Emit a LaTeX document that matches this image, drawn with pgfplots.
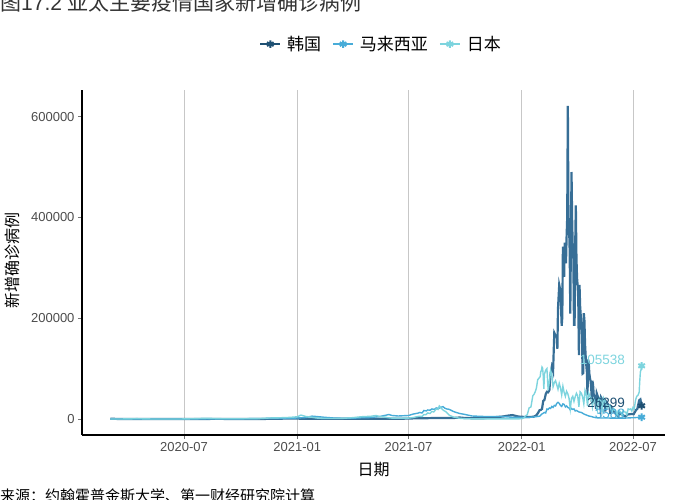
\documentclass[border=0pt]{standalone}
\usepackage{pgfplots}
\pgfplotsset{compat=1.18}
\usepackage{fontspec}
\setmainfont{Liberation Sans}
\newfontfamily\cjk{Noto Sans CJK SC}

\definecolor{krline}{RGB}{55,110,150}
\definecolor{krdark}{RGB}{30,80,115}
\definecolor{myline}{RGB}{72,172,216}
\definecolor{jpline}{RGB}{125,212,222}

% x = days since 2020-01-01 (2020-07-01 = 182, 2021-01-01 = 366, 2022-01-01 = 731)
\pgfplotstableread{
day cases
62 600
76 100
91 100
121 10
152 50
182 60
213 30
228 300
244 250
274 100
305 120
320 300
335 500
350 1000
366 800
380 500
397 400
425 400
456 500
486 600
517 500
547 800
555 1300
565 1600
578 1700
590 2000
600 1900
609 1900
620 2000
630 3000
639 2000
655 1500
670 1700
680 3100
690 3900
700 4900
710 7000
716 7800
725 5000
731 4400
740 4000
750 4400
755 7500
758 13000
760 17500
762 18000
764 20000
766 36000
768 38000
770 49000
772 54000
774 53000
776 57000
778 90000
780 104000
782 95000
784 171000
786 166000
788 163000
789 139000
790 219000
792 266000
794 254000
796 185000
797 202000
798 342000
800 282000
801 350000
803 309000
804 362000
805 400000
806 621000
807 407000
808 381000
809 334000
810 209000
811 353000
812 490000
813 395000
814 339000
815 318000
816 187000
817 187000
818 347000
819 424000
820 320000
821 280000
822 264000
823 234000
824 127000
825 266000
826 224000
827 205000
828 186000
829 164000
830 90000
831 91000
832 210000
833 195000
834 148000
835 125000
836 107000
837 93000
838 47000
839 118000
840 111000
841 90000
842 81000
843 75000
844 63000
845 34000
846 76000
847 68000
848 50000
850 43000
852 20000
853 51000
856 40000
859 20000
860 43000
866 30000
867 15000
868 35000
874 25000
875 10000
876 24000
882 13000
888 5000
889 12000
896 7000
900 5000
903 9000
910 10000
913 9500
917 18000
919 20000
922 37000
924 39000
926 26299
}\korea

\pgfplotstableread{
day cases
62 5
76 100
91 150
105 150
121 50
152 20
182 5
213 10
244 20
274 300
290 700
305 1000
320 1200
335 1100
350 1500
366 2000
380 3000
390 5700
397 5000
410 3500
425 2000
440 1500
456 1500
470 2500
486 3000
500 5000
510 7500
515 9000
520 7000
530 6000
547 7000
555 10000
562 11500
565 13000
569 12000
572 17000
576 16000
578 18000
582 17500
585 20000
589 19000
592 22000
596 21000
600 23500
603 24599
606 21500
609 20000
612 19500
615 18000
619 15500
622 14000
626 12500
630 11000
639 9000
650 6000
660 5500
670 5000
680 5000
700 5000
715 3500
731 3500
740 3000
750 4000
760 5500
764 10000
768 13000
770 12000
772 20000
774 19000
776 22000
778 21000
780 25000
782 23000
784 27000
786 26000
788 31000
790 33000
792 31000
794 27000
796 25000
798 30000
800 29000
802 24000
804 26000
806 23000
808 22000
810 18000
812 21000
814 19000
816 20000
818 16000
820 17000
824 14000
828 13000
832 10000
836 8000
840 6000
844 5000
848 3500
852 2500
860 2000
870 2000
880 1800
890 1700
900 1900
910 2500
918 3000
926 3588
}\malaysia

\pgfplotstableread{
day cases
62 20
76 50
91 250
100 500
105 700
115 400
121 200
135 50
152 40
170 100
182 150
200 700
213 1300
220 1500
230 1000
244 600
260 500
274 500
290 700
305 900
320 2000
335 2400
350 3000
360 3800
366 4500
372 7800
380 5000
390 3500
397 2000
410 1000
425 1000
440 1300
456 2700
470 4500
486 5500
494 7000
500 5000
510 3500
517 2000
530 1500
547 1800
555 3000
560 4500
565 5500
569 5000
572 9000
575 8500
578 12000
582 11000
585 15000
588 14000
592 20000
595 19000
597 25800
600 22000
602 19000
604 17000
607 15000
609 13000
612 9000
614 7000
620 4000
630 1500
639 600
655 300
670 200
700 150
720 300
731 500
735 2600
737 6000
740 8500
743 22000
746 24000
749 46000
751 49000
753 54000
755 62000
757 78000
759 81000
761 84000
762 94000
763 96000
764 103000
765 101000
766 86000
767 60000
768 89000
770 97000
772 100000
774 57000
776 74000
778 96000
780 88000
782 64000
784 72000
786 76000
788 68000
790 59000
792 71000
794 62000
796 48000
798 65000
800 53000
802 45000
804 55000
806 50000
808 41000
810 20000
812 41000
814 45000
816 35000
818 44000
820 51000
822 46000
824 24000
826 54000
828 51000
830 44000
832 30000
834 57000
836 50000
838 26000
840 51000
842 45000
844 42000
846 24000
848 39000
850 35000
852 29000
854 18000
856 40000
858 42000
860 34000
862 18000
864 42000
866 37000
868 29000
870 22000
872 25000
874 27000
876 19000
878 15000
880 21000
882 18000
884 15000
886 8000
888 17000
890 16000
892 14000
894 7000
896 17000
898 14000
900 14000
902 8000
904 20000
906 19000
908 20000
910 16000
912 23000
914 20000
916 37000
918 45000
920 47000
922 53000
923 76000
924 94000
925 97000
926 105538
}\japan

\tikzset{
  endmark/.style={mark=asterisk, mark size=3.8bp, mark options={line width=2bp, solid}},
}
\pgfplotsset{
  keyimg/.style={legend image code/.code={
      \draw[##1, line width=1.8bp] (0bp,0bp) -- (20bp,0bp);
      \draw[##1] plot[endmark] coordinates {(10bp,0bp)};
  }},
}

\begin{document}
\begin{tikzpicture}
\useasboundingbox (0,0) rectangle (700bp,500bp);
\clip (0,0) rectangle (700bp,500bp);
\node[anchor=base west, inner sep=0, font=\fontsize{21bp}{23bp}\selectfont, text=black!80]
  at (0bp,489bp) {{\cjk 图}17.2 {\cjk 亚太主要疫情国家新增确诊病例}};
\node[anchor=base west, inner sep=0, font=\fontsize{15bp}{17bp}\selectfont\cjk]
  at (0bp,-1bp) {来源：约翰霍普金斯大学、第一财经研究院计算};
\begin{axis}[
  at={(82bp,65bp)}, anchor=south west,
  scale only axis, width=583bp, height=345bp,
  xmin=16, xmax=964, ymin=-31700, ymax=652700,
  axis x line*=bottom, axis y line*=left,
  axis line style={line width=1.3bp, -},
  xtick={182,366,547,731,912},
  xticklabels={2020-07,2021-01,2021-07,2022-01,2022-07},
  ytick={0,200000,400000,600000},
  scaled y ticks=false,
  yticklabel style={/pgf/number format/.cd, fixed, 1000 sep={}},
  /pgf/number format/assume math mode=true,
  ticklabel style={font=\fontsize{13bp}{15bp}\selectfont, text=black!70},
  tick align=outside, major tick length=4bp,
  tick style={black!55, line width=0.9bp},
  xmajorgrids, major grid style={black!22, line width=0.9bp},
  xlabel={\cjk 日期}, ylabel={\cjk 新增确诊病例},
  label style={font=\fontsize{16bp}{18bp}\selectfont},
  xlabel style={at={(axis description cs:0.5,-0.101)}, anchor=center},
  ylabel style={at={(axis description cs:-0.12,0.507)}, anchor=center},
  legend columns=-1,
  legend style={draw=none, fill=none, at={(axis description cs:0.513,1.133)}, anchor=center,
    font=\fontsize{17bp}{19bp}\selectfont\cjk,
    /tikz/every odd column/.append style={column sep=4bp},
    /tikz/every even column/.append style={column sep=9bp}},
  clip=false,
]
\addlegendimage{krdark, keyimg}
\addlegendentry{韩国}
\addlegendimage{myline, keyimg}
\addlegendentry{马来西亚}
\addlegendimage{jpline, keyimg}
\addlegendentry{日本}

\addplot[krline, line width=2.2bp, no markers, forget plot] table[x=day, y=cases] {\korea};
\addplot[myline, line width=1.4bp, no markers, forget plot] table[x=day, y=cases] {\malaysia};
\addplot[jpline, line width=1.4bp, no markers, forget plot] table[x=day, y=cases] {\japan};

\node[anchor=east, inner sep=0, text=jpline, font=\fontsize{13.5bp}{15bp}\selectfont] at (axis cs:899,117000) {105538};
\node[anchor=east, inner sep=0, text=myline, font=\fontsize{13.5bp}{15bp}\selectfont] at (axis cs:899,11000) {3588};
\node[anchor=east, inner sep=0, text=krdark, font=\fontsize{13.5bp}{15bp}\selectfont] at (axis cs:899,32000) {26299};

\addplot[krdark, only marks, endmark, forget plot] coordinates {(926,26299)};
\addplot[myline, only marks, endmark, forget plot] coordinates {(926,3588)};
\addplot[jpline, only marks, endmark, forget plot] coordinates {(926,105538)};
\end{axis}
\end{tikzpicture}
\end{document}
